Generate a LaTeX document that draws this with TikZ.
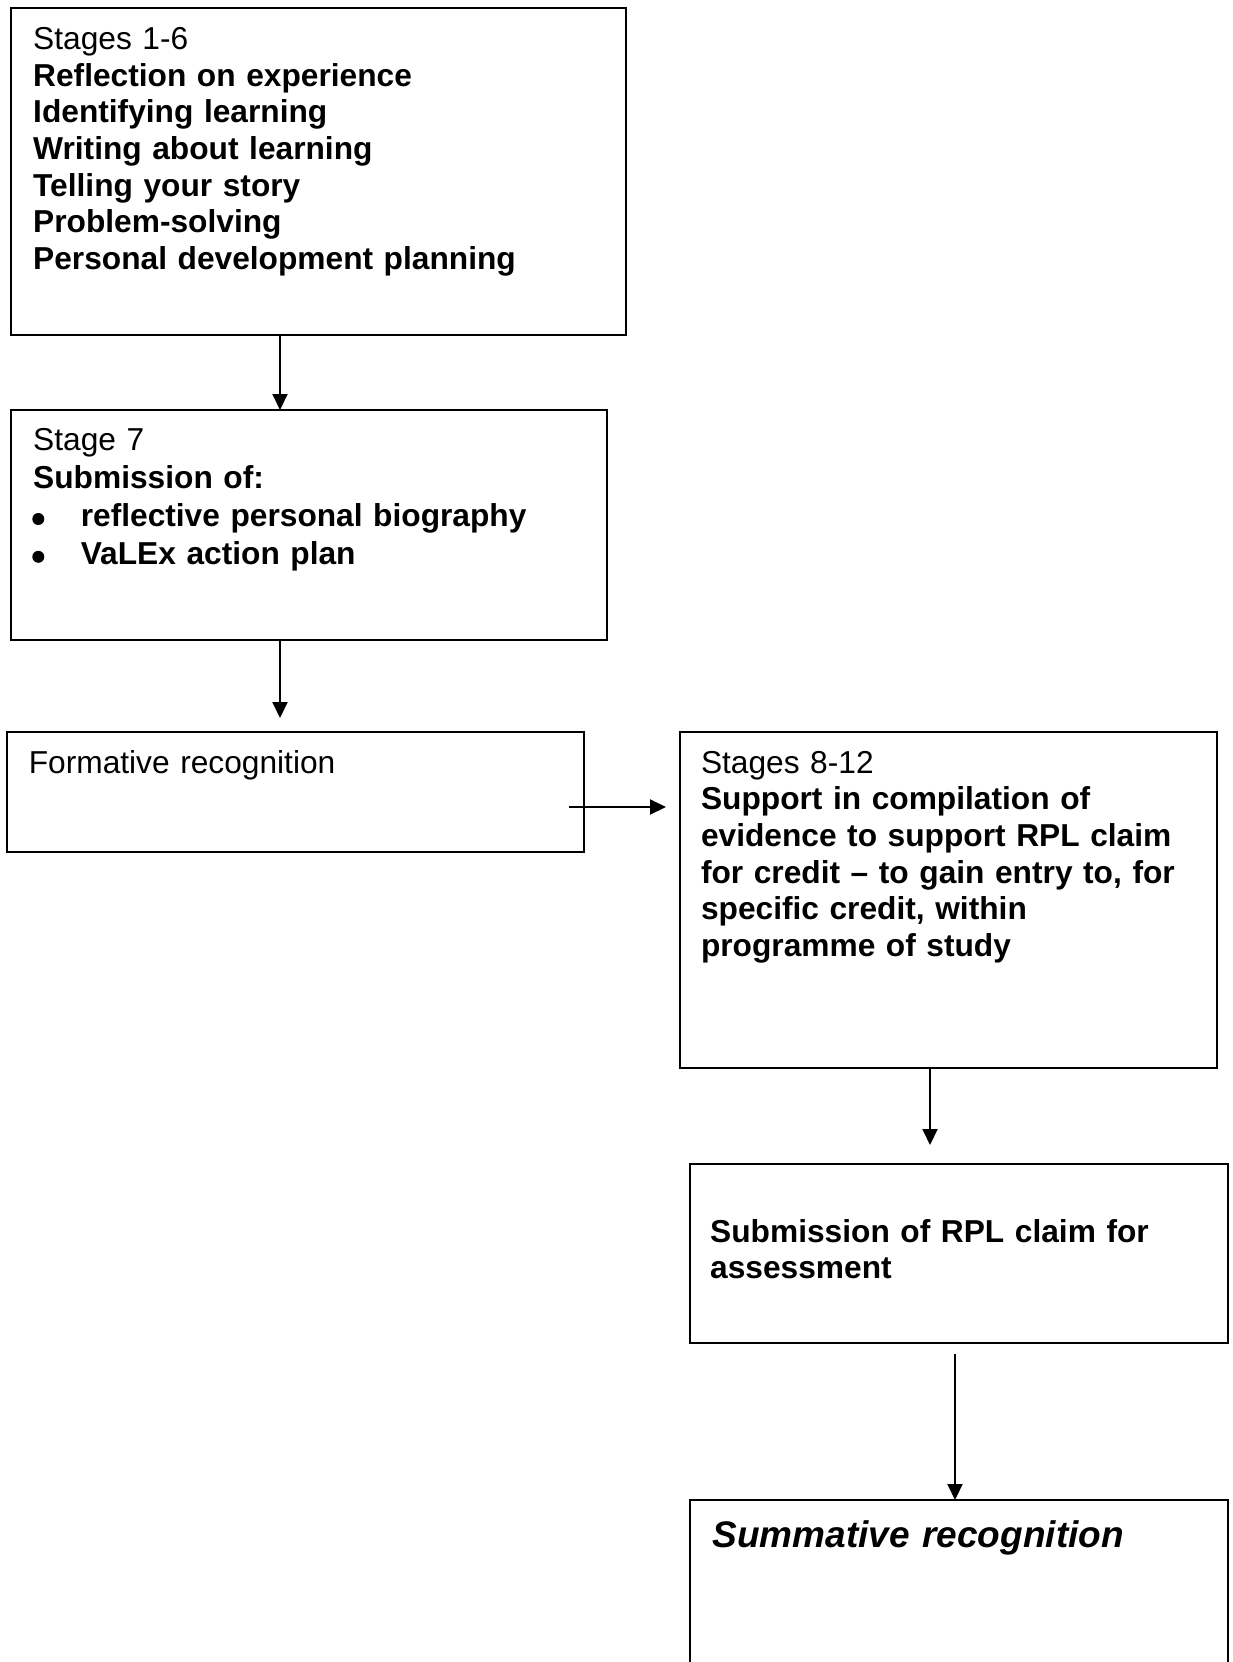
\documentclass[tikz,border=0pt]{standalone}
\usepackage{fontspec}
\setmainfont{Liberation Sans}
\usetikzlibrary{arrows.meta}
\begin{document}
\begin{tikzpicture}[x=1pt,y=-1pt,
  boxstyle/.style={draw, line width=2pt, rectangle, inner sep=0pt, outer sep=0pt, anchor=north west},
  txt/.style={anchor=base west, inner sep=0pt, text width=#1, align=left, font=\fontsize{31.7}{36.7}\selectfont},
  arr/.style={line width=2pt, -{Triangle[length=16pt,width=15pt]}},
  bulletdot/.style={fill=black}]
\useasboundingbox (0,0) rectangle (1232,1662);
\clip (0,0) rectangle (1232,1662);
% boxes
\node[boxstyle, minimum width=615pt, minimum height=326.5pt] (b1) at (10.6,8.5) {};
\node[boxstyle, minimum width=596pt, minimum height=230pt] (b2) at (10.6,410) {};
\node[boxstyle, minimum width=576.6pt, minimum height=120.5pt] (b3) at (7.4,731.5) {};
\node[boxstyle, minimum width=537.4pt, minimum height=336pt] (b4) at (679.6,731.5) {};
\node[boxstyle, minimum width=538pt, minimum height=179pt] (b5) at (690,1164) {};
\node[boxstyle, minimum width=538pt, minimum height=260pt] (b6) at (690,1500) {};
% texts
\node[txt=590pt] (t1) at (33,49.5) {Stages 1-6\\
\textbf{Reflection on experience}\\
\textbf{Identifying learning}\\
\textbf{Writing about learning}\\
\textbf{Telling your story}\\
\textbf{Problem-solving}\\
\textbf{Personal development planning}};
\node[txt=570pt, font=\fontsize{31.7}{37.8}\selectfont] (t2) at (33,450.6) {Stage 7\\
\textbf{Submission of:}\\
\hspace*{47.6pt}\textbf{reflective personal biography}\\
\hspace*{47.6pt}\textbf{VaLEx action plan}};
\fill[bulletdot] (38.3,519) circle (6);
\fill[bulletdot] (38.3,556.8) circle (6);
\node[txt=540pt] (t3) at (28.6,773) {Formative recognition};
\node[txt=510pt] (t4) at (700.8,773) {Stages 8-12\\
\textbf{Support in compilation of}\\
\textbf{evidence to support RPL claim}\\
\textbf{for credit -- to gain entry to, for}\\
\textbf{specific credit, within}\\
\textbf{programme of study}};
\node[txt=510pt, font=\fontsize{31.7}{36}\selectfont] (t5) at (710,1242.6) {\textbf{Submission of RPL claim for}\\
\textbf{assessment}};
\node[txt=510pt, font=\fontsize{37}{42}\selectfont\bfseries\itshape] (t6) at (712.5,1547) {Summative recognition};
% connector ends
\coordinate (a1x) at (280,0);
\coordinate (a2e) at (280,718);
\coordinate (a3s) at (569,807);
\coordinate (a3e) at (666,807);
\coordinate (a4e) at (930,1145);
\coordinate (a5s) at (955,1354);
% connectors
\draw[arr] (b1.south -| a1x) -- (b2.north -| a1x);
\draw[arr] (b2.south -| a2e) -- (a2e);
\draw[arr] (a3s) -- (a3e);
\draw[arr] (b4.south -| a4e) -- (a4e);
\draw[arr] (a5s) -- (b6.north -| a5s);
\end{tikzpicture}
\end{document}
